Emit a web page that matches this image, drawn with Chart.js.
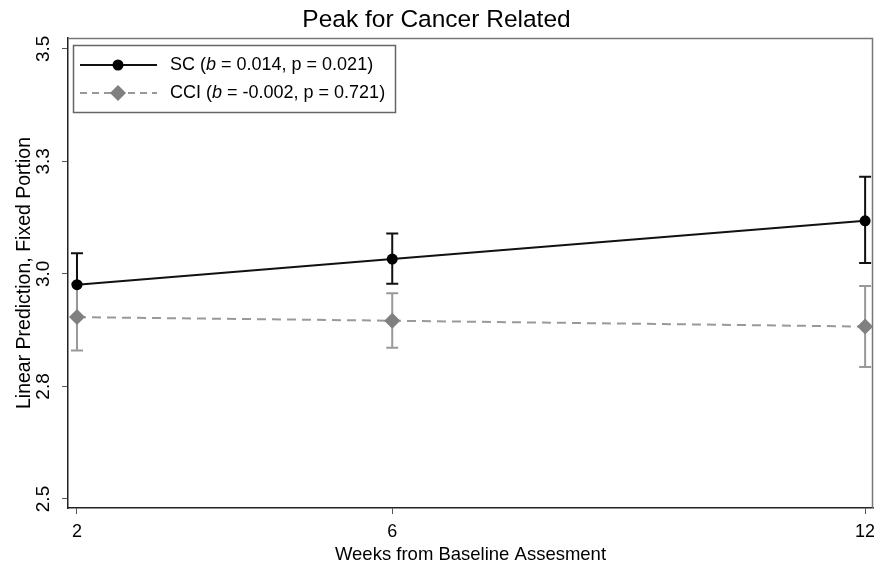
<!DOCTYPE html>
<html>
<head>
<meta charset="utf-8">
<title>Peak for Cancer Related</title>
<script src="https://cdn.jsdelivr.net/npm/chart.js@4.4.1/dist/chart.umd.min.js"></script>
<style>
  html, body { margin: 0; padding: 0; background: #fff; }
  #wrap { width: 874px; height: 569px; }
</style>
</head>
<body>
<div id="wrap"><canvas id="chart" width="874" height="569"></canvas></div>
<script>
// values
const weeks = [2, 6, 12];
const scMean = [2.976, 3.033, 3.118];
const scLower = [2.906, 2.978, 3.024];
const scUpper = [3.046, 3.090, 3.216];
const cciMean = [2.904, 2.896, 2.883];
const cciLower = [2.830, 2.836, 2.793];
const cciUpper = [2.978, 2.957, 2.973];

const xTicks = [2, 6, 12];
const yTicks = [2.5, 2.75, 3.0, 3.25, 3.5];
const yTickLabels = ['2.5', '2.8', '3.0', '3.3', '3.5'];

const seriesNames = ['SC', 'CCI'];
const bValues = ['0.014', '-0.002'];
const pValues = ['0.021', '0.721'];

const FONT = "'Liberation Sans', Arial, Helvetica, sans-serif";

// error bars (drawn under the lines, SC first so CCI sits on top)
const errorBars = {
    id: 'errorBars',
    beforeDatasetsDraw(chart) {
        const { ctx, scales: { x, y } } = chart;
        const sets = [
            { lo: scLower, hi: scUpper, color: '#111' },
            { lo: cciLower, hi: cciUpper, color: '#999' }
        ];
        ctx.save();
        sets.forEach(s => {
            ctx.strokeStyle = s.color;
            ctx.lineWidth = 2;
            weeks.forEach((w, i) => {
                const px = x.getPixelForValue(w);
                const top = y.getPixelForValue(s.hi[i]);
                const bot = y.getPixelForValue(s.lo[i]);
                ctx.beginPath();
                ctx.moveTo(px, top); ctx.lineTo(px, bot);
                ctx.moveTo(px - 6, top); ctx.lineTo(px + 6, top);
                ctx.moveTo(px - 6, bot); ctx.lineTo(px + 6, bot);
                ctx.stroke();
            });
        });
        ctx.restore();
    }
};

// grey frame on top / right of plot region
const plotFrame = {
    id: 'plotFrame',
    beforeDatasetsDraw(chart) {
        const { ctx, chartArea: a } = chart;
        ctx.save();
        ctx.strokeStyle = '#777';
        ctx.lineWidth = 1.5;
        ctx.beginPath();
        ctx.moveTo(a.left, a.top + 0.5);
        ctx.lineTo(a.right - 0.5, a.top + 0.5);
        ctx.lineTo(a.right - 0.5, a.bottom);
        ctx.stroke();
        ctx.restore();
    }
};

// legend box inside plot, with italic b
const legendBox = {
    id: 'legendBox',
    afterDraw(chart) {
        const { ctx, chartArea: a } = chart;
        const bx = a.left + 5, by = a.top + 7, bw = 322, bh = 67;
        ctx.save();
        ctx.fillStyle = '#fff';
        ctx.fillRect(bx, by, bw, bh);
        ctx.strokeStyle = '#666';
        ctx.lineWidth = 1.5;
        ctx.strokeRect(bx + 0.5, by + 0.5, bw, bh);

        const rows = [by + 20, by + 48];
        const styles = [
            { color: '#111', dash: [], marker: 'circle', fill: '#000', r: 5.5 },
            { color: '#999', dash: [7, 5], marker: 'diamond', fill: '#808080', r: 8 }
        ];
        rows.forEach((ry, i) => {
            const st = styles[i];
            ctx.strokeStyle = st.color;
            ctx.lineWidth = 2;
            ctx.setLineDash(st.dash);
            ctx.beginPath();
            ctx.moveTo(bx + 7, ry);
            ctx.lineTo(bx + 84, ry);
            ctx.stroke();
            ctx.setLineDash([]);
            ctx.fillStyle = st.fill;
            const mx = bx + 45;
            ctx.beginPath();
            if (st.marker === 'circle') {
                ctx.arc(mx, ry, st.r, 0, Math.PI * 2);
            } else {
                ctx.moveTo(mx, ry - st.r);
                ctx.lineTo(mx + st.r, ry);
                ctx.lineTo(mx, ry + st.r);
                ctx.lineTo(mx - st.r, ry);
                ctx.closePath();
            }
            ctx.fill();

            // label text: name (b = .., p = ..)
            const parts = [
                [seriesNames[i] + ' (', 'normal'],
                ['b', 'italic'],
                [' = ' + bValues[i] + ', p = ' + pValues[i] + ')', 'normal']
            ];
            let tx = bx + 97;
            ctx.fillStyle = '#000';
            ctx.textBaseline = 'middle';
            ctx.textAlign = 'left';
            parts.forEach(([t, style]) => {
                ctx.font = style + ' 18px ' + FONT;
                ctx.fillText(t, tx, ry);
                tx += ctx.measureText(t).width;
            });
        });
        ctx.restore();
    }
};

const ctx = document.getElementById('chart').getContext('2d');
new Chart(ctx, {
    type: 'line',
    data: {
        datasets: [
            {
                label: seriesNames[0],
                data: weeks.map((w, i) => ({ x: w, y: scMean[i] })),
                borderColor: '#111',
                borderWidth: 2,
                pointStyle: 'circle',
                pointRadius: 5.5,
                pointBackgroundColor: '#000',
                pointBorderWidth: 0,
                tension: 0,
                order: 1
            },
            {
                label: seriesNames[1],
                data: weeks.map((w, i) => ({ x: w, y: cciMean[i] })),
                borderColor: '#999',
                borderWidth: 2,
                borderDash: [9, 6],
                pointStyle: 'rectRot',
                pointRadius: 8,
                pointBackgroundColor: '#808080',
                pointBorderWidth: 0,
                tension: 0,
                order: 2
            }
        ]
    },
    options: {
        responsive: false,
        animation: false,
        events: [],
        layout: { autoPadding: false, padding: { left: 0, right: 1, top: 0, bottom: 0 } },
        plugins: {
            legend: { display: false },
            tooltip: { enabled: false },
            title: {
                display: true,
                text: 'Peak for Cancer Related',
                color: '#000',
                font: { family: FONT, size: 24.5, weight: 'normal' },
                padding: { top: 6, bottom: 2.6 }
            }
        },
        scales: {
            x: {
                type: 'linear',
                min: 1.886,
                max: 12.1,
                afterBuildTicks(scale) {
                    scale.ticks = xTicks.map(v => ({ value: v }));
                },
                afterFit(scale) {
                    scale.height = 61;
                    // the "12" label may hang past the plot edge, as in the original
                    scale.paddingLeft = 0;
                    scale.paddingRight = 0;
                },
                ticks: {
                    color: '#000',
                    font: { family: FONT, size: 18 },
                    padding: 7,
                    maxRotation: 0,
                    callback: v => String(v)
                },
                grid: {
                    display: true,
                    drawOnChartArea: false,
                    drawTicks: true,
                    tickLength: 6,
                    color: '#555'
                },
                border: { display: true, color: '#222', width: 1.5 },
                title: {
                    display: true,
                    text: 'Weeks from Baseline Assesment',
                    color: '#000',
                    font: { family: FONT, size: 18.5 },
                    padding: { top: 0, bottom: 2.6 }
                }
            },
            y: {
                type: 'linear',
                min: 2.48,
                max: 3.524,
                afterBuildTicks(scale) {
                    scale.ticks = yTicks.map(v => ({ value: v }));
                },
                afterFit(scale) {
                    scale.width = 68;
                    scale.paddingTop = 0;
                    scale.paddingBottom = 0;
                },
                ticks: {
                    color: '#000',
                    font: { family: FONT, size: 19 },
                    padding: 5,
                    minRotation: 90,
                    maxRotation: 90,
                    crossAlign: 'center',
                    callback: (v, i) => yTickLabels[i]
                },
                grid: {
                    display: true,
                    drawOnChartArea: false,
                    drawTicks: true,
                    tickLength: 6,
                    color: '#555'
                },
                border: { display: true, color: '#222', width: 1.5 },
                title: {
                    display: true,
                    text: 'Linear Prediction, Fixed Portion',
                    color: '#000',
                    font: { family: FONT, size: 19.5 },
                    padding: { top: 12.5, bottom: 0 }
                }
            }
        }
    },
    plugins: [plotFrame, errorBars, legendBox]
});
</script>
</body>
</html>
